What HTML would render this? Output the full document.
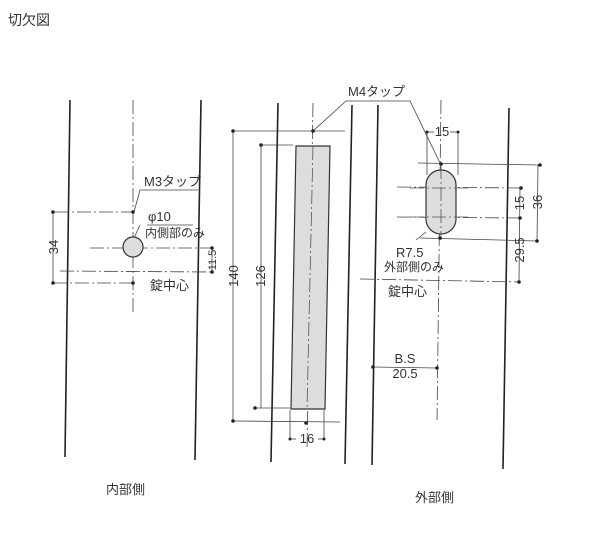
<!DOCTYPE html>
<html><head><meta charset="utf-8"><style>
html,body{margin:0;padding:0;background:#fff;}
svg{display:block}
text{font-family:"Liberation Sans","Noto Sans CJK JP",sans-serif;fill:#333;}
</style></head><body>
<svg width="600" height="546" viewBox="0 0 600 546" xmlns="http://www.w3.org/2000/svg">
<text x="8" y="25" font-size="14">切欠図</text>
<g stroke="#222" stroke-width="1.6" fill="none">
<line x1="70" y1="100" x2="65" y2="457"/>
<line x1="201" y1="100" x2="195" y2="460"/>
<line x1="278" y1="103" x2="271" y2="462"/>
<line x1="352" y1="105" x2="345" y2="464"/>
<line x1="378" y1="105" x2="372" y2="465"/>
<line x1="509" y1="108" x2="503" y2="469"/>
</g>
<g stroke="#444" stroke-width="0.8" fill="none">
<line x1="133" y1="100" x2="133" y2="315" stroke-dasharray="14,3,2,3"/>
<line x1="55" y1="212" x2="133" y2="212" stroke-dasharray="14,3,2,3"/>
<line x1="53" y1="212" x2="53" y2="283"/>
<line x1="53" y1="283" x2="133" y2="283" stroke-dasharray="14,3,2,3"/>
<line x1="60" y1="271" x2="212" y2="272" stroke-dasharray="14,3,2,3"/>
<line x1="90" y1="248" x2="213" y2="248" stroke-dasharray="14,3,2,3"/>
<line x1="212" y1="248" x2="212" y2="272"/>
<polyline points="134,212 140,190 198,190"/>
<line x1="147" y1="225" x2="193" y2="225"/>
<polyline points="134,238 140,225"/>
<line x1="313" y1="103" x2="307" y2="450" stroke-dasharray="14,3,2,3"/>
<line x1="233" y1="131" x2="345" y2="131"/>
<line x1="233" y1="131" x2="233" y2="421"/>
<line x1="233" y1="421" x2="340" y2="422"/>
<line x1="261" y1="145" x2="293" y2="145"/>
<line x1="261" y1="145" x2="261" y2="408"/>
<line x1="255" y1="408" x2="290" y2="408"/>
<line x1="290" y1="410" x2="290" y2="440"/>
<line x1="324" y1="410" x2="324" y2="440"/>
<line x1="290" y1="439" x2="296" y2="439"/><line x1="318" y1="439" x2="324" y2="439"/>
<polyline points="313,131 346,101 410,101 440,163"/>
<line x1="441" y1="100" x2="437" y2="420" stroke-dasharray="14,3,2,3"/>
<line x1="418" y1="163" x2="540" y2="165"/>
<line x1="397" y1="187" x2="522" y2="188" stroke-dasharray="14,3,2,3"/>
<line x1="397" y1="217" x2="520" y2="218" stroke-dasharray="14,3,2,3"/>
<line x1="420" y1="238" x2="537" y2="241"/>
<line x1="427" y1="131" x2="427" y2="175"/>
<line x1="458" y1="131" x2="458" y2="175"/>
<line x1="427" y1="132" x2="434" y2="132"/><line x1="450" y1="132" x2="458" y2="132"/>
<line x1="520" y1="188" x2="519" y2="282"/>
<line x1="538" y1="165" x2="537" y2="241"/>
<line x1="360" y1="279" x2="520" y2="282" stroke-dasharray="14,3,2,3"/>
<line x1="373" y1="367" x2="437" y2="368"/>
<line x1="416" y1="240" x2="426" y2="232"/>
</g>
<polygon points="296,146 330,146 325,409 291,409" fill="#ddd" stroke="#333" stroke-width="1.2"/>
<line x1="313" y1="146" x2="307" y2="409" stroke="#555" stroke-width="0.8" stroke-dasharray="14,3,2,3"/>
<circle cx="133" cy="247" r="10" fill="#ddd" stroke="#333" stroke-width="1.2"/>
<rect x="426" y="170" width="30" height="64" rx="15" fill="#ddd" stroke="#333" stroke-width="1.2"/>
<line x1="441" y1="165" x2="441" y2="240" stroke="#555" stroke-width="0.8" stroke-dasharray="14,3,2,3"/>
<line x1="410" y1="188" x2="470" y2="188" stroke="#555" stroke-width="0.8" stroke-dasharray="14,3,2,3"/>
<line x1="410" y1="217" x2="470" y2="217" stroke="#555" stroke-width="0.8" stroke-dasharray="14,3,2,3"/>
<g fill="#222">
<circle cx="133" cy="212" r="1.8"/><circle cx="53" cy="212" r="1.8"/><circle cx="53" cy="283" r="1.8"/><circle cx="133" cy="283" r="1.8"/><circle cx="212" cy="248" r="1.8"/><circle cx="212" cy="272" r="1.8"/>
<circle cx="313" cy="131" r="1.8"/><circle cx="233" cy="131" r="1.8"/><circle cx="261" cy="145" r="1.8"/><circle cx="255" cy="408" r="1.8"/><circle cx="233" cy="421" r="1.8"/><circle cx="306" cy="423" r="1.8"/><circle cx="290" cy="439" r="1.5"/><circle cx="324" cy="439" r="1.5"/>
<circle cx="441" cy="164" r="1.8"/><circle cx="440" cy="238" r="1.8"/><circle cx="540" cy="165" r="1.8"/><circle cx="537" cy="241" r="1.8"/><circle cx="521" cy="188" r="1.8"/><circle cx="520" cy="218" r="1.8"/><circle cx="519" cy="282" r="1.8"/><circle cx="427" cy="132" r="1.5"/><circle cx="458" cy="132" r="1.5"/><circle cx="373" cy="367" r="1.8"/><circle cx="437" cy="368" r="1.8"/>
</g>
<g font-size="13">
<text x="144" y="186">M3タップ</text>
<text x="148" y="221">φ10</text>
<text x="145" y="237" font-size="12">内側部のみ</text>
<text x="150" y="290">錠中心</text>
<text x="58" y="247" transform="rotate(-90 58 247)" text-anchor="middle">34</text>
<text x="216" y="260" transform="rotate(-90 216 260)" text-anchor="middle" font-size="11">11.5</text>
<text x="348" y="96">M4タップ</text>
<text x="238" y="276" transform="rotate(-90 238 276)" text-anchor="middle">140</text>
<text x="265" y="276" transform="rotate(-90 265 276)" text-anchor="middle">126</text>
<text x="307" y="443" text-anchor="middle">16</text>
<text x="442" y="136" text-anchor="middle">15</text>
<text x="524" y="203" transform="rotate(-90 524 203)" text-anchor="middle">15</text>
<text x="524" y="250" transform="rotate(-90 524 250)" text-anchor="middle">29.5</text>
<text x="542" y="202" transform="rotate(-90 542 202)" text-anchor="middle">36</text>
<text x="396" y="257">R7.5</text>
<text x="384" y="271" font-size="12">外部側のみ</text>
<text x="388" y="296">錠中心</text>
<text x="405" y="363" text-anchor="middle">B.S</text>
<text x="405" y="378" text-anchor="middle">20.5</text>
<text x="106" y="494">内部側</text>
<text x="415" y="502">外部側</text>
</g>
</svg>
</body></html>
